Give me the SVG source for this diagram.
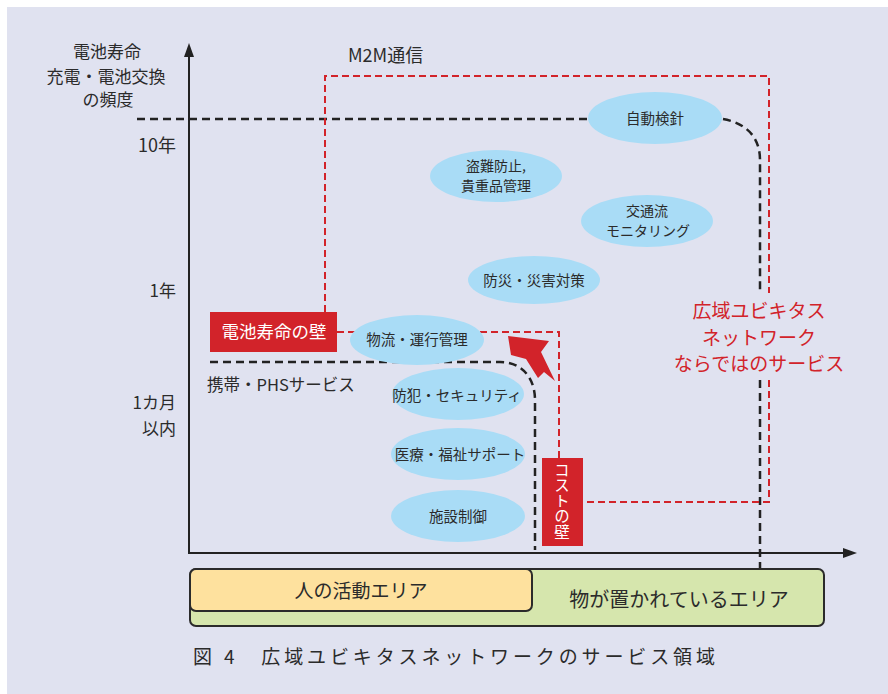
<svg xmlns="http://www.w3.org/2000/svg" width="888" height="694" viewBox="0 0 888 694">
<defs>
<style>
text{font-family:"Noto Sans CJK JP","Noto Sans",sans-serif;fill:#2b2b2b}
.lab{font-size:17px}
.ell{fill:#a9dcf6}
.et{font-size:14.5px;text-anchor:middle}
.e2{font-size:14px;text-anchor:middle}
.bd{fill:none;stroke:#222;stroke-width:2.5;stroke-dasharray:8 5}
.rd{fill:none;stroke:#d2232a;stroke-width:2;stroke-dasharray:7 4}
.red{fill:#d2232a}
.wt{fill:#fff}
.rt{fill:#d2232a;font-size:19px;text-anchor:middle}
</style>
</defs>
<rect x="0" y="0" width="888" height="694" fill="#fff"/>
<rect x="7" y="7" width="881" height="687" fill="#e0e2f0"/>

<g id="axes">
<line x1="189" y1="553" x2="189" y2="55" stroke="#222" stroke-width="2"/>
<polygon points="189,43 184,57 194,57" fill="#222"/>
<line x1="188" y1="553" x2="845" y2="553" stroke="#222" stroke-width="2"/>
<polygon points="857,553 843,548 843,558" fill="#222"/>
</g>

<g id="axis-labels" class="lab">
<text x="107" y="58" text-anchor="middle">電池寿命</text>
<text x="106" y="83" text-anchor="middle">充電・電池交換</text>
<text x="108" y="106" text-anchor="middle">の頻度</text>
<text x="176" y="152" text-anchor="end" font-size="18">10年</text>
<text x="176" y="297" text-anchor="end">1年</text>
<text x="176" y="409" text-anchor="end">1カ月</text>
<text x="176" y="435" text-anchor="end">以内</text>
</g>

<g id="connectors">
<path class="bd" d="M137,119 H588"/>
<path class="bd" d="M723,119 C745,123 760,136 760,160 V293"/>
<path class="bd" d="M760,380 V568"/>
<path class="bd" d="M210,362 H500 C522,362 535,378 535,400 V550"/>
<path class="rd" d="M325,312 V76 H769 V293"/>
<path class="rd" d="M769,380 V502 H583"/>
<path class="rd" d="M337,332 H559 V458"/>
<polygon class="red" points="508,336 549,341 541,352 555,381 544,372 538,378 526,359 511,355"/>
</g>

<g id="m2m"><text x="348" y="62" font-size="18">M2M通信</text></g>
<g id="phs"><text x="207" y="391" font-size="16.5">携帯・PHSサービス</text></g>

<g id="n-jidou"><ellipse class="ell" cx="655" cy="118" rx="67" ry="26"/><text class="et" x="655" y="124" font-size="15">自動検針</text></g>
<g id="n-tounan"><ellipse class="ell" cx="496" cy="176" rx="66" ry="26"/><text class="e2" x="496" y="171">盗難防止,</text><text class="e2" x="496" y="191">貴重品管理</text></g>
<g id="n-koutsu"><ellipse class="ell" cx="647" cy="221" rx="66" ry="26"/><text class="e2" x="647" y="216">交通流</text><text class="e2" x="648" y="236">モニタリング</text></g>
<g id="n-bousai"><ellipse class="ell" cx="534" cy="280" rx="66" ry="24"/><text class="et" x="534" y="286">防災・災害対策</text></g>
<g id="n-butsuryu"><ellipse class="ell" cx="417" cy="340" rx="67" ry="25"/><text class="et" x="417" y="345">物流・運行管理</text></g>
<g id="n-bouhan"><ellipse class="ell" cx="458" cy="394" rx="66" ry="26"/><text class="et" x="457" y="401">防犯・セキュリティ</text></g>
<g id="n-iryou"><ellipse class="ell" cx="458" cy="454" rx="67" ry="26"/><text class="et" x="460" y="460" font-size="14">医療・福祉サポート</text></g>
<g id="n-shisetsu"><ellipse class="ell" cx="458" cy="516" rx="67" ry="26"/><text class="et" x="458" y="522" font-size="15">施設制御</text></g>

<g id="wall-battery"><rect class="red" x="210" y="312" width="127" height="40"/><text class="wt" x="274" y="338" font-size="17.5" text-anchor="middle">電池寿命の壁</text></g>
<g id="wall-cost"><rect class="red" x="542" y="458" width="41" height="88"/>
<text class="wt" x="562" y="462" font-size="15.5" style="writing-mode:vertical-rl">コストの壁</text></g>

<g id="ubiq"><text class="rt" x="759" y="318">広域ユビキタス</text><text class="rt" x="759" y="345">ネットワーク</text><text class="rt" x="759" y="371">ならではのサービス</text></g>

<g id="areas">
<rect x="190" y="569" width="634" height="57" rx="6" fill="#d6e6ad" stroke="#2b2b2b" stroke-width="2"/>
<rect x="190" y="569" width="342" height="42" rx="6" fill="#fee19e" stroke="#2b2b2b" stroke-width="2"/>
<text x="361" y="598" font-size="19" text-anchor="middle">人の活動エリア</text>
<text x="679" y="607" font-size="20" text-anchor="middle">物が置かれているエリア</text>
</g>

<g id="caption"><text x="193" y="664" font-size="19" textLength="522" lengthAdjust="spacing">図 4　広域ユビキタスネットワークのサービス領域</text></g>
</svg>
